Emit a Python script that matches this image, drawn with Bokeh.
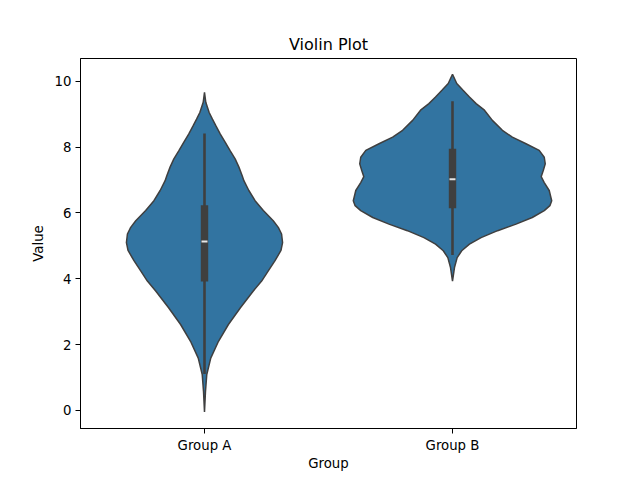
from bokeh.plotting import figure
from bokeh.models import Range1d, FixedTicker
from bokeh.embed import file_html
from bokeh.resources import INLINE

# ---- data ----
groups = ["Group A", "Group B"]

# violin outlines: value levels and relative density (1.0 = widest violin)
a_values = [9.66, 9.36, 9.05, 8.85, 8.65, 8.40, 8.15, 7.89, 7.64, 7.39, 7.13, 6.98, 6.68,
            6.37, 6.07, 5.76, 5.56, 5.36, 5.10, 4.86, 4.55, 4.24, 3.93, 3.63, 3.12, 2.61,
            2.10, 1.59, 1.09, 0.58, -0.05]
a_density = [0.0, 0.013, 0.047, 0.08, 0.114, 0.158, 0.208, 0.258, 0.309, 0.347, 0.38, 0.397,
             0.447, 0.51, 0.593, 0.693, 0.744, 0.777, 0.787, 0.771, 0.711, 0.643, 0.576,
             0.492, 0.362, 0.241, 0.141, 0.063, 0.023, 0.01, 0.0]

b_values = [10.21, 9.93, 9.73, 9.52, 9.32, 9.12, 8.81, 8.51, 8.30, 8.10, 7.90, 7.69, 7.49,
            7.29, 7.10, 6.92, 6.68, 6.37, 6.22, 6.07, 5.86, 5.66, 5.46, 5.25, 5.05, 4.85,
            4.64, 4.34, 3.93]
b_density = [0.0, 0.043, 0.104, 0.171, 0.238, 0.322, 0.402, 0.503, 0.603, 0.741, 0.874, 0.925,
             0.935, 0.915, 0.894, 0.925, 0.975, 1.0, 0.982, 0.925, 0.804, 0.64, 0.455, 0.288,
             0.171, 0.093, 0.047, 0.02, 0.0]

# inner box statistics per group
whisker_low = [1.11, 4.72]
q1 = [3.92, 6.14]
median = [5.13, 7.02]
q3 = [6.23, 7.95]
whisker_high = [8.41, 9.39]

y_ticks = [0, 2, 4, 6, 8, 10]

# ---- styles ----
FILL = "#3274a1"
EDGE = "#3f3f3f"
FONT = "DejaVu Sans"
HALF_WIDTH = 0.4  # seaborn width 0.8

p = figure(
    output_backend="svg", toolbar_location=None,
    frame_width=496, frame_height=370,
    min_border_left=80, min_border_right=56, min_border_top=58, min_border_bottom=44,
    x_range=Range1d(-0.5, 1.5), y_range=Range1d(-0.549, 10.69),
    title="Violin Plot",
)
p.background_fill_color = "white"
p.border_fill_color = "white"
p.outline_line_color = "black"
p.outline_line_width = 1
p.xgrid.visible = False
p.ygrid.visible = False

p.title.align = "center"
p.title.text_font = FONT
p.title.text_font_size = "16px"
p.title.text_font_style = "normal"
p.title.text_color = "black"
p.title.standoff = 10

violins = [(a_values, a_density), (b_values, b_density)]
xs, ys = [], []
for i, (vals, dens) in enumerate(violins):
    right = [i + d * HALF_WIDTH for d in dens]
    left = [i - d * HALF_WIDTH for d in reversed(dens)]
    xs.append(right + left)
    ys.append(list(vals) + list(reversed(vals)))
p.patches(xs, ys, fill_color=FILL, line_color=EDGE, line_width=1.5)

pos = list(range(len(groups)))
p.segment(x0=pos, y0=whisker_low, x1=pos, y1=whisker_high, line_color=EDGE, line_width=2.6)
p.segment(x0=pos, y0=q1, x1=pos, y1=q3, line_color=EDGE, line_width=7.4)
p.rect(x=pos, y=median, width=6, height=2, width_units="screen", height_units="screen",
       fill_color="#e6e6e6", line_color=None)

for ax in (p.xaxis[0], p.yaxis[0]):
    ax.major_label_text_font = FONT
    ax.major_label_text_font_size = "13.3px"
    ax.major_label_text_color = "black"
    ax.axis_label_text_font = FONT
    ax.axis_label_text_font_size = "13.3px"
    ax.axis_label_text_font_style = "normal"
    ax.axis_label_text_color = "black"
    ax.major_tick_in = 0
    ax.major_tick_out = 5
    ax.minor_tick_line_color = None
    ax.axis_line_color = "black"
    ax.major_tick_line_color = "black"
    ax.major_label_standoff = 4

p.xaxis.ticker = FixedTicker(ticks=pos)
p.xaxis.major_label_overrides = {i: g for i, g in enumerate(groups)}
p.xaxis.axis_label = "Group"
p.xaxis.axis_label_standoff = 0
p.yaxis.ticker = FixedTicker(ticks=y_ticks)
p.yaxis.axis_label = "Value"
p.yaxis.axis_label_standoff = 6

open("out.html", "w").write(file_html(p, INLINE))
